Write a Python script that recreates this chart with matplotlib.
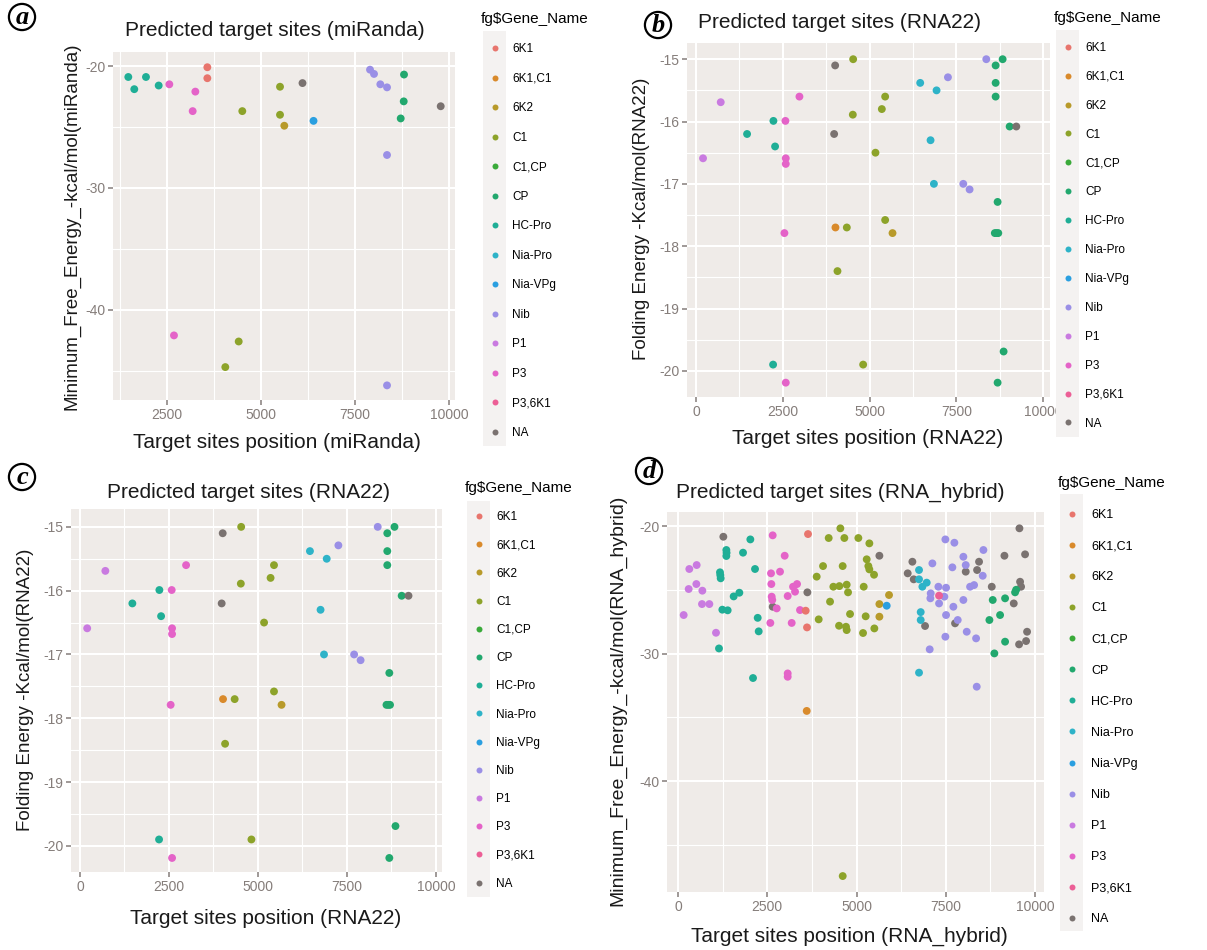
import matplotlib
matplotlib.use("Agg")
import matplotlib.pyplot as plt
from matplotlib.lines import Line2D
from matplotlib.patches import Rectangle
from matplotlib.ticker import FixedLocator

plt.rcParams['font.family'] = ['Liberation Sans', 'DejaVu Sans']

# порядок уровней легенды
gene_levels = ['6K1', '6K1,C1', '6K2', 'C1', 'C1,CP', 'CP', 'HC-Pro', 'Nia-Pro',
               'Nia-VPg', 'Nib', 'P1', 'P3', 'P3,6K1', 'NA']
gene_colors = ['#E8756D', '#D98A2B', '#B89A2A', '#8DA32A', '#3AAA3A', '#22A86E', '#1FAE96',
               '#2EB3C8', '#2A9FE0', '#9A8FE6', '#C97AE0', '#E463C8', '#EC5F96', '#7A7270']

# (a) miRanda
mir_pos = [1471, 1630, 1941, 2279, 2562, 3183, 3254, 3573, 3573, 4503, 5506, 5506, 5620, 6104,
           6397, 7900, 8006, 8174, 8352, 8352, 8804, 8796, 8716, 9780, 2686, 4407, 4051, 8352]
mir_mfe = [-20.9, -21.9, -20.9, -21.6, -21.5, -23.7, -22.1, -20.1, -21.0, -23.7, -21.7, -24.0,
           -24.9, -21.4, -24.5, -20.3, -20.65, -21.5, -21.75, -27.3, -20.7, -22.9, -24.3, -23.3,
           -42.1, -42.6, -44.7, -46.2]
mir_gene = ['HC-Pro', 'HC-Pro', 'HC-Pro', 'HC-Pro', 'P3', 'P3', 'P3', '6K1', '6K1', 'C1', 'C1',
            'C1', '6K2', 'NA', 'Nia-VPg', 'Nib', 'Nib', 'Nib', 'Nib', 'Nib', 'CP', 'CP', 'CP',
            'NA', 'P3', 'C1', 'C1', 'Nib']

# (b) и (c) RNA22 - одни и те же данные
r22_pos = [202, 712, 1471, 2230, 2278, 2576, 2586, 2586, 2980, 2547, 4009, 4528, 4518, 3980,
           4018, 4345, 5450, 5354, 5171, 5450, 5662, 6460, 6931, 6758, 6855, 7259, 7701, 7883,
           8364, 8633, 8835, 8633, 8633, 9037, 9229, 8690, 8610, 8660, 8710, 4076, 2221, 4816,
           2586, 8690, 8863]
r22_fe = [-16.59, -15.69, -16.2, -15.99, -16.4, -15.99, -16.59, -16.68, -15.6, -17.79, -15.1,
          -15.0, -15.89, -16.2, -17.7, -17.7, -15.6, -15.8, -16.5, -17.58, -17.79, -15.38, -15.5,
          -16.3, -17.0, -15.29, -17.0, -17.09, -15.0, -15.1, -15.0, -15.38, -15.6, -16.08,
          -16.08, -17.29, -17.79, -17.79, -17.79, -18.4, -19.9, -19.9, -20.19, -20.19, -19.69]
r22_gene = ['P1', 'P1', 'HC-Pro', 'HC-Pro', 'HC-Pro', 'P3', 'P3', 'P3', 'P3', 'P3', 'NA', 'C1',
            'C1', 'NA', '6K1,C1', 'C1', 'C1', 'C1', 'C1', 'C1', '6K2', 'Nia-Pro', 'Nia-Pro',
            'Nia-Pro', 'Nia-Pro', 'Nib', 'Nib', 'Nib', 'Nib', 'CP', 'CP', 'CP', 'CP', 'CP', 'NA',
            'CP', 'CP', 'CP', 'CP', 'C1', 'HC-Pro', 'C1', 'P3', 'CP', 'CP']

# (d) RNA_hybrid
hyb_pos = [159, 317, 523, 299, 514, 682, 672, 878, 1064,
           1148, 1176, 1195, 1185, 1354, 1354, 1360, 1821, 2026, 2157, 1559, 1718, 1242, 1391,
           2232, 2260, 2101,
           1270, 3623, 2652,
           2652, 2988, 2605, 2857, 2614, 2624, 2640, 2764, 2586, 3072, 3222, 3334, 3278, 3184,
           3417, 3072, 3072,
           3641, 3576, 3613,
           3605,
           4547, 4220, 4659, 5051, 5359, 4062, 4612, 3884, 4351, 4519, 4724, 4762, 4258, 3940,
           4510, 4724, 4705, 4818, 5182, 5256, 5499, 5201, 5285, 5331, 5359, 5490, 4613,
           5910, 5640, 5640,
           5845,
           5640, 6433, 6564, 6601, 6919, 8058, 8376, 8431, 8787, 9142, 9562, 9720, 9580, 9608,
           9403, 9552, 9776, 9748, 7759,
           6750, 6750, 6844, 6965, 6797, 6797, 6750,
           7124, 7488, 7740, 7684, 7992, 8058, 8553, 8534, 8180, 8292, 7077, 7068, 7292, 7507,
           7460, 7311, 7712, 7992, 7507, 7834, 7488, 8086, 8348, 7049, 8366,
           7311,
           8814, 9160, 8721, 9020, 9440, 9470, 9160, 8860]
hyb_mfe = [-26.98, -23.37, -23.06, -24.94, -24.55, -25.07, -26.12, -26.12, -28.37,
           -29.6, -23.63, -24.1, -23.85, -21.88, -22.35, -22.1, -22.09, -21.05, -23.37, -25.52,
           -25.23, -26.56, -26.61, -27.2, -28.26, -31.92,
           -20.84, -25.2, -26.33,
           -20.73, -22.33, -23.71, -23.58, -24.55, -25.54, -25.8, -26.46, -27.6, -25.49, -24.76,
           -24.55, -25.15, -27.6, -26.59, -31.56, -31.82,
           -20.63, -26.64, -27.95,
           -34.5,
           -20.18, -20.94, -20.94, -20.94, -21.36, -23.14, -23.14, -23.97, -24.76, -24.71, -24.6,
           -25.2, -25.93, -27.32, -27.82, -28.16, -27.9, -26.9, -28.39, -27.08, -28.03, -24.76,
           -22.61, -23.14, -23.4, -23.82, -47.45,
           -25.41, -26.12, -27.11,
           -26.25,
           -22.33, -23.71, -22.8, -24.18, -27.84, -23.58, -23.45, -22.8, -24.76, -22.33, -20.18,
           -22.22, -24.37, -24.76, -26.07, -29.28, -28.29, -29.02, -27.63,
           -23.45, -24.18, -24.76, -24.44, -26.75, -27.37, -31.5,
           -22.93, -21.05, -21.31, -23.24, -22.41, -23.06, -21.88, -23.9, -24.76, -24.63, -25.28,
           -25.67, -24.76, -24.84, -25.54, -26.07, -26.33, -25.8, -26.98, -27.37, -28.68, -28.29,
           -28.81, -29.67, -32.6,
           -25.46,
           -25.8, -25.67, -27.37, -26.98, -25.2, -25.0, -29.07, -29.99]
hyb_gene = (['P1'] * 9 + ['HC-Pro'] * 17 + ['NA'] * 3 + ['P3'] * 17 + ['6K1'] * 3 + ['6K1,C1']
            + ['C1'] * 27 + ['6K2'] * 3 + ['Nia-VPg'] + ['NA'] * 19 + ['Nia-Pro'] * 7
            + ['Nib'] * 25 + ['P3,6K1'] + ['CP'] * 8)

W, H = 1207, 950
fig = plt.figure(figsize=(W / 100, H / 100), dpi=100)
col = dict(zip(gene_levels, gene_colors))
tick_c = '#857d7a'


def px_rect(l, t, r, b):
    return [l / W, 1 - b / H, (r - l) / W, (b - t) / H]


def panel(rect, xs, ys, genes, xlim, ylim, yt, ymin, xt, xmin, title, tpos, xlab, xpos,
          ylab, ypos, fs=15, yfs=13.5):
    ax = fig.add_axes(px_rect(*rect))
    ax.set_facecolor('#EFEBE8')
    ax.scatter(xs, ys, c=[col[g] for g in genes], s=32, edgecolors='none', zorder=3)
    ax.set_xlim(xlim)
    ax.set_ylim(ylim)
    ax.xaxis.set_major_locator(FixedLocator(xt))
    ax.xaxis.set_minor_locator(FixedLocator(xmin))
    ax.yaxis.set_major_locator(FixedLocator(yt))
    ax.yaxis.set_minor_locator(FixedLocator(ymin))
    ax.set_yticklabels([f'{v:g}' for v in yt])
    ax.grid(which='major', color='white', lw=1.5)
    ax.grid(which='minor', color='white', lw=0.8)
    ax.set_axisbelow(True)
    for s in ax.spines.values():
        s.set_visible(False)
    ax.tick_params(which='major', length=3.5, width=1.1, color=tick_c, labelcolor=tick_c,
                   labelsize=10, pad=2)
    ax.tick_params(which='minor', length=0)
    fig.text(tpos[0] / W, 1 - tpos[1] / H, title, fontsize=fs, ha='center', va='center',
             color='#1a1a1a')
    fig.text(xpos[0] / W, 1 - xpos[1] / H, xlab, fontsize=fs, ha='center', va='center',
             color='#1a1a1a')
    fig.text(ypos[0] / W, 1 - ypos[1] / H, ylab, fontsize=yfs, ha='center', va='center',
             rotation=90, color='#1a1a1a')
    return ax


def legend(x, y, step, fs=8.5):
    # фон ключей легенды
    top = y + 34 - step / 2
    fig.patches.append(Rectangle(((x + 2) / W, 1 - (top + 14 * step) / H),
                                 23 / W, (14 * step) / H, transform=fig.transFigure,
                                 facecolor='#F4F2F1', edgecolor='none', zorder=0))
    hs = [Line2D([], [], ls='', marker='o', markersize=4.3, color=c, markeredgewidth=0)
          for c in gene_colors]
    fig.legend(hs, gene_levels, loc='upper left', bbox_to_anchor=(x / W, 1 - y / H),
               frameon=False, title='fg$Gene_Name', title_fontsize=11, fontsize=fs,
               borderpad=0, borderaxespad=0, handlelength=2.3, handletextpad=0.35,
               labelspacing=(step - 12.1) / (fs * 1.389), alignment='left')


xt = [0, 2500, 5000, 7500, 10000]
xm = [1250, 3750, 6250, 8750]

panel((113, 52, 455, 400), mir_pos, mir_mfe, mir_gene, (1064, 10160), (-47.4, -18.85),
      [-40, -30, -20], [-45, -35, -25], xt[1:], xm, 'Predicted target sites (miRanda)',
      (275, 30), 'Target sites position (miRanda)', (277, 443),
      'Minimum_Free_Energy_-kcal/mol(miRanda)', (72, 226))
panel((687, 43, 1050, 397), r22_pos, r22_fe, r22_gene, (-260, 10200), (-20.42, -14.74),
      [-20, -19, -18, -17, -16, -15], [-19.5, -18.5, -17.5, -16.5, -15.5], xt, xm,
      'Predicted target sites (RNA22)', (840, 23), 'Target sites position (RNA22)',
      (868, 438), 'Folding Energy -Kcal/mol(RNA22)', (642, 219))
panel((71, 509, 442, 872), r22_pos, r22_fe, r22_gene, (-253, 10170), (-20.41, -14.72),
      [-20, -19, -18, -17, -16, -15], [-19.5, -18.5, -17.5, -16.5, -15.5], xt, xm,
      'Predicted target sites (RNA22)', (249, 493), 'Target sites position (RNA22)',
      (266, 919), 'Folding Energy -Kcal/mol(RNA22)', (26, 690))
panel((667, 512, 1044, 892), hyb_pos, hyb_mfe, hyb_gene, (-308, 10250), (-48.7, -18.9),
      [-40, -30, -20], [-45, -35, -25], xt, xm, 'Predicted target sites (RNA_hybrid)',
      (840, 492), 'Target sites position (RNA_hybrid)', (849, 936),
      'Minimum_Free_Energy_-kcal/mol(RNA_hybrid)', (618, 700), yfs=14)

legend(481, 12, 29.6)
legend(1054, 11, 29.0)
legend(465, 481, 28.3)
legend(1058, 476, 31.2, fs=9)

# буквы в кружках
for lt, (lx, ly) in zip('abcd', [(22, 17), (658, 25), (22, 477), (649, 471)]):
    fig.text(lx / W, 1 - ly / H, lt, fontsize=19, fontfamily='Liberation Serif',
             fontstyle='italic', fontweight='bold', ha='center', va='center',
             bbox=dict(boxstyle='circle,pad=0.06', fc='white', ec='black', lw=1.6))

fig.savefig('out.png', dpi=100, facecolor='white')
